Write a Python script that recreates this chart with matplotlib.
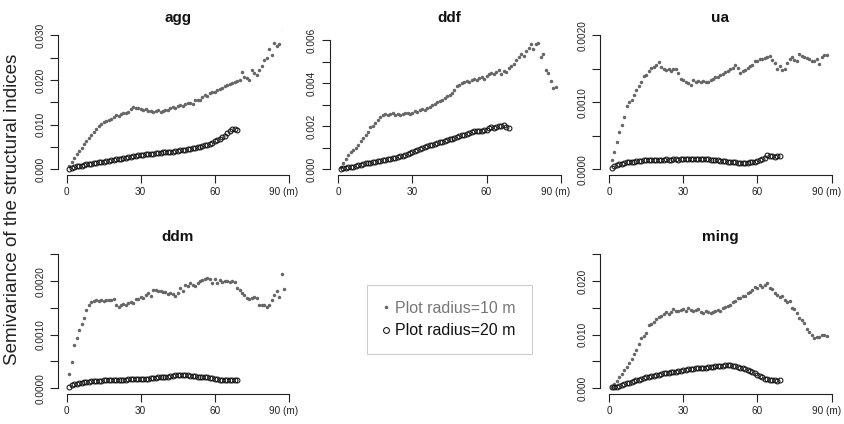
import numpy as np
import matplotlib.pyplot as plt
from matplotlib.lines import Line2D

plt.rcParams['font.family'] = ['Liberation Sans', 'DejaVu Sans']

# lag distances (m)
lag_10m = np.arange(1, 89)
lag_20m = np.arange(1, 70)

# semivariances, in units of 1e-3
agg_10m = [0.6, 1.5, 2.4, 3.3, 4.1, 4.8, 5.6, 6.3, 7.0, 7.6,
           8.3, 8.9, 9.6, 10.1, 10.5, 10.8, 11.0, 11.3, 11.8, 12.1,
           12.0, 12.3, 12.5, 12.6, 12.8, 13.4, 13.9, 13.6, 13.8, 13.5,
           13.3, 13.4, 13.1, 13.0, 12.8, 13.0, 13.2, 12.9, 13.1, 13.3,
           13.2, 13.6, 13.9, 13.7, 14.1, 14.3, 14.2, 14.6, 14.8, 14.9,
           14.7, 15.4, 15.6, 15.5, 16.2, 16.6, 16.4, 17.1, 17.3, 17.2,
           17.8, 18.0, 18.1, 18.6, 18.8, 19.1, 19.3, 19.6, 19.8, 20.1,
           21.8, 20.6, 20.4, 20.0, 22.3, 21.5, 21.0, 22.2, 23.1, 24.5,
           24.9, 27.0, 25.5, 28.3, 27.6, 28.0, 31.6, 33.0]
agg_20m = [0.1, 0.3, 0.45, 0.6, 0.7, 0.8, 0.95, 1.05, 1.15, 1.25,
           1.35, 1.45, 1.5, 1.6, 1.7, 1.8, 1.85, 1.95, 2.05, 2.2,
           2.3, 2.35, 2.5, 2.6, 2.65, 2.8, 2.85, 2.95, 3.1, 3.15,
           3.25, 3.3, 3.4, 3.45, 3.5, 3.6, 3.6, 3.7, 3.75, 3.85,
           3.9, 3.95, 3.95, 4.05, 4.1, 4.2, 4.3, 4.35, 4.45, 4.55,
           4.7, 4.8, 4.9, 5.0, 5.2, 5.35, 5.5, 5.7, 5.95, 6.2,
           6.5, 6.8, 7.1, 7.5, 8.0, 8.5, 8.9, 9.0, 8.8]

ddf_10m = [0.1, 0.3, 0.5, 0.65, 0.8, 0.9, 1.0, 1.15, 1.3, 1.45,
           1.6, 1.75, 1.95, 2.0, 2.15, 2.3, 2.45, 2.5, 2.55, 2.5,
           2.55, 2.6, 2.5, 2.55, 2.5, 2.55, 2.6, 2.6, 2.55, 2.6,
           2.7, 2.65, 2.75, 2.8, 2.75, 2.85, 2.9, 3.0, 3.05, 3.1,
           3.15, 3.2, 3.3, 3.4, 3.45, 3.55, 3.7, 3.85, 3.9, 4.0,
           4.05, 4.1, 4.05, 4.15, 4.2, 4.15, 4.25, 4.3, 4.2, 4.35,
           4.4, 4.45, 4.4, 4.5, 4.6, 4.4, 4.55, 4.5, 4.7, 4.8,
           4.9, 5.05, 5.2, 5.35, 5.25, 5.5, 5.65, 5.8, 5.6, 5.8,
           5.85, 5.2, 5.35, 4.6, 4.45, 4.1, 3.75, 3.8]
ddf_20m = [0.02, 0.04, 0.06, 0.09, 0.11, 0.13, 0.16, 0.19, 0.22, 0.25,
           0.27, 0.29, 0.31, 0.33, 0.35, 0.37, 0.39, 0.41, 0.43, 0.46,
           0.48, 0.51, 0.54, 0.57, 0.6, 0.63, 0.67, 0.71, 0.75, 0.79,
           0.84, 0.88, 0.93, 0.98, 1.03, 1.07, 1.11, 1.15, 1.19, 1.23,
           1.26, 1.29, 1.31, 1.35, 1.39, 1.42, 1.46, 1.5, 1.54, 1.58,
           1.61, 1.65, 1.7, 1.74, 1.78, 1.76, 1.8, 1.77, 1.83, 1.82,
           1.9, 1.94, 1.92, 1.97, 2.0, 2.02, 2.05, 1.95, 1.93]

ua_10m = [0.13, 0.25, 0.41, 0.56, 0.66, 0.78, 0.95, 1.0, 1.04, 1.11,
          1.19, 1.25, 1.31, 1.39, 1.40, 1.46, 1.51, 1.53, 1.56, 1.60,
          1.52, 1.50, 1.48, 1.49, 1.47, 1.50, 1.49, 1.43, 1.35, 1.34,
          1.31, 1.29, 1.26, 1.34, 1.31, 1.32, 1.31, 1.32, 1.31, 1.30,
          1.33, 1.35, 1.37, 1.38, 1.40, 1.42, 1.45, 1.47, 1.49, 1.51,
          1.55, 1.51, 1.43, 1.47, 1.48, 1.51, 1.54, 1.56, 1.61, 1.62,
          1.65, 1.64, 1.66, 1.68, 1.69, 1.63, 1.59, 1.49, 1.54, 1.48,
          1.49, 1.58, 1.65, 1.67, 1.63, 1.61, 1.72, 1.69, 1.68, 1.66,
          1.64, 1.62, 1.61, 1.64, 1.57, 1.68, 1.70, 1.70]
ua_20m = [0.02, 0.04, 0.06, 0.07, 0.08, 0.09, 0.10, 0.10, 0.11, 0.11,
          0.12, 0.12, 0.12, 0.13, 0.13, 0.13, 0.14, 0.14, 0.14, 0.14,
          0.14, 0.14, 0.145, 0.14, 0.14, 0.145, 0.145, 0.14, 0.145, 0.145,
          0.145, 0.15, 0.15, 0.15, 0.155, 0.15, 0.15, 0.15, 0.145, 0.145,
          0.14, 0.14, 0.135, 0.13, 0.125, 0.12, 0.115, 0.11, 0.105, 0.10,
          0.10, 0.095, 0.09, 0.09, 0.095, 0.095, 0.10, 0.105, 0.11, 0.12,
          0.13, 0.15, 0.17, 0.21, 0.19, 0.20, 0.18, 0.19, 0.19]

ddm_10m = [0.26, 0.49, 0.80, 0.93, 1.08, 1.20, 1.32, 1.46, 1.55, 1.61,
           1.63, 1.64, 1.63, 1.64, 1.63, 1.65, 1.64, 1.64, 1.66, 1.55,
           1.52, 1.55, 1.57, 1.56, 1.59, 1.61, 1.60, 1.66, 1.67, 1.70,
           1.69, 1.74, 1.77, 1.72, 1.84, 1.83, 1.81, 1.81, 1.79, 1.79,
           1.76, 1.78, 1.75, 1.73, 1.78, 1.88, 1.82, 1.92, 1.90, 1.97,
           1.93, 1.91, 1.97, 2.00, 2.02, 2.04, 2.05, 2.04, 1.96, 2.04,
           1.97, 2.03, 1.98, 2.00, 2.01, 1.99, 2.01, 1.98, 1.88, 1.84,
           1.78, 1.74, 1.69, 1.67, 1.68, 1.70, 1.69, 1.56, 1.55, 1.56,
           1.52, 1.56, 1.64, 1.74, 1.82, 1.70, 2.14, 1.85]
ddm_20m = [0.02, 0.05, 0.07, 0.08, 0.09, 0.10, 0.11, 0.11, 0.12, 0.13,
           0.13, 0.14, 0.14, 0.14, 0.15, 0.15, 0.15, 0.16, 0.16, 0.16,
           0.16, 0.16, 0.16, 0.16, 0.17, 0.17, 0.17, 0.17, 0.17, 0.17,
           0.18, 0.18, 0.18, 0.19, 0.19, 0.19, 0.20, 0.20, 0.20, 0.21,
           0.21, 0.22, 0.23, 0.24, 0.24, 0.24, 0.24, 0.24, 0.24, 0.23,
           0.23, 0.22, 0.21, 0.20, 0.20, 0.20, 0.20, 0.19, 0.19, 0.18,
           0.17, 0.16, 0.16, 0.15, 0.15, 0.15, 0.15, 0.16, 0.15]

ming_10m = [0.3, 0.8, 1.4, 2.0, 2.7, 3.3, 3.9, 4.7, 5.5, 6.3,
            7.1, 8.3, 9.3, 9.7, 10.3, 11.8, 12.0, 12.4, 13.0, 13.3,
            13.5, 13.8, 14.2, 13.9, 14.2, 14.7, 14.5, 14.4, 14.6, 14.7,
            14.5, 14.9, 14.6, 14.4, 14.6, 14.7, 14.3, 14.0, 14.4, 14.3,
            14.1, 14.2, 14.5, 14.6, 14.4, 15.0, 15.1, 15.3, 15.5, 16.1,
            16.3, 16.8, 16.9, 17.2, 17.3, 17.7, 18.0, 18.4, 18.9, 18.8,
            19.3, 18.9, 19.3, 19.6, 18.7, 18.5, 17.7, 17.4, 17.1, 17.2,
            16.4, 16.1, 16.3, 14.9, 14.7, 14.0, 13.2, 12.7, 12.1, 11.1,
            10.5, 9.9, 9.3, 9.5, 9.6, 9.9, 10.0, 9.8]
ming_20m = [0.2, 0.25, 0.3, 0.45, 0.6, 0.75, 0.9, 1.0, 1.15, 1.3,
            1.45, 1.6, 1.75, 1.9, 2.05, 2.15, 2.25, 2.35, 2.45, 2.55,
            2.65, 2.75, 2.85, 2.9, 3.0, 3.05, 3.1, 3.2, 3.25, 3.35,
            3.4, 3.5, 3.55, 3.6, 3.7, 3.75, 3.8, 3.85, 3.85, 3.9,
            3.95, 4.0, 4.05, 4.1, 4.15, 4.2, 4.25, 4.3, 4.25, 4.2,
            4.1, 4.0, 3.85, 3.7, 3.55, 3.4, 3.2, 3.0, 2.8, 2.5,
            2.3, 2.05, 1.8, 1.65, 1.55, 1.5, 1.45, 1.4, 1.45]

x_ticks = [0, 30, 60, 90]
x_tick_labels = ["0", "30", "60", "90 (m)"]
legend_labels = ["Plot radius=10 m", "Plot radius=20 m"]

GREY = "#666666"
DARK = "#111111"
W, H = 844, 424
TICK_LEN, TICK_PAD, TICK_FS = 5.5, 3.5, 7.2

fig = plt.figure(figsize=(W / 100, H / 100), dpi=100)


def px_axes(left, top, width, height):
    return fig.add_axes([left / W, 1 - (top + height) / H, width / W, height / H])


# name, data 10 m, data 20 m, left px, top px, ylim, tick step, label every, format, top tick
panels = [
    ("agg", agg_10m, agg_20m, 57.8, 30, (-0.0012, 0.0312), 0.005, 2, "%.3f", 0.030),
    ("ddf", ddf_10m, ddf_20m, 329.5, 30, (-0.000241, 0.006464), 0.001, 2, "%.3f", 0.006),
    ("ua", ua_10m, ua_20m, 600.4, 30, (-0.00008, 0.00208), 0.0005, 2, "%.4f", 0.002),
    ("ddm", ddm_10m, ddm_20m, 57.8, 249, (-0.0001, 0.0026), 0.0005, 2, "%.4f", 0.0025),
    ("ming", ming_10m, ming_20m, 600.4, 249, (-0.001, 0.026), 0.005, 2, "%.3f", 0.025),
]

for name, v10, v20, left, top, ylim, step, every, fmt, ymax in panels:
    ax = px_axes(left, top, 240, 144.5)
    ax.plot(lag_10m, np.array(v10) * 1e-3, "o", ms=2.5, color=GREY, mec="none")
    ax.plot(lag_20m, np.array(v20) * 1e-3, "o", ms=3.5, mfc="none", mec=DARK, mew=0.75)
    ax.set_xlim(-3.6, 93.6)
    ax.set_ylim(*ylim)
    yt = np.arange(0, ymax + step / 2, step)
    ax.set_yticks(yt)
    ax.set_yticklabels([fmt % v if i % every == 0 else "" for i, v in enumerate(yt)],
                       rotation=90, va="center")
    ax.set_xticks(x_ticks)
    # last label drawn by hand, nudged left so it stays inside the figure like R does
    ax.set_xticklabels(x_tick_labels[:-1] + [""])
    ax.annotate(x_tick_labels[-1], xy=(x_ticks[-1], 0), xycoords=ax.get_xaxis_transform(),
                xytext=(-3.5, -(TICK_LEN + TICK_PAD)), textcoords="offset points",
                ha="center", va="top", fontsize=TICK_FS, color="#222222")
    for s in ["top", "right"]:
        ax.spines[s].set_visible(False)
    ax.spines["left"].set_bounds(0, yt[-1])
    ax.spines["bottom"].set_bounds(0, 90)
    for s in ["left", "bottom"]:
        ax.spines[s].set_color("#222222")
        ax.spines[s].set_linewidth(0.8)
    ax.tick_params(direction="out", length=TICK_LEN, width=0.8, color="#222222",
                   labelsize=TICK_FS, labelcolor="#222222", pad=TICK_PAD)
    ax.text(0.5, 1 + 12 / 144.5, name, transform=ax.transAxes, ha="center",
            va="center", fontsize=11, fontweight="bold", color="#111111")

fig.text(13 / W, 1 - 209 / H, "Semivariance of the structural indices",
         rotation=90, ha="center", va="center", fontsize=13.5, color="#222222")

handles = [Line2D([], [], ls="none", marker="o", ms=2.6, color=GREY, mec="none"),
           Line2D([], [], ls="none", marker="o", ms=4.2, mfc="none", mec=DARK, mew=0.75)]
leg = fig.legend(handles, legend_labels, loc="upper left",
                 bbox_to_anchor=(366.7 / W, 1 - 285 / H), borderaxespad=0,
                 fontsize=11.5, frameon=True, fancybox=False, edgecolor="#cccccc",
                 framealpha=1, handlelength=0.4, handletextpad=0.4,
                 borderpad=1.0, labelspacing=0.45, labelcolor=["#777777", DARK])
leg.get_frame().set_linewidth(0.8)

fig.savefig("out.png", dpi=100)
